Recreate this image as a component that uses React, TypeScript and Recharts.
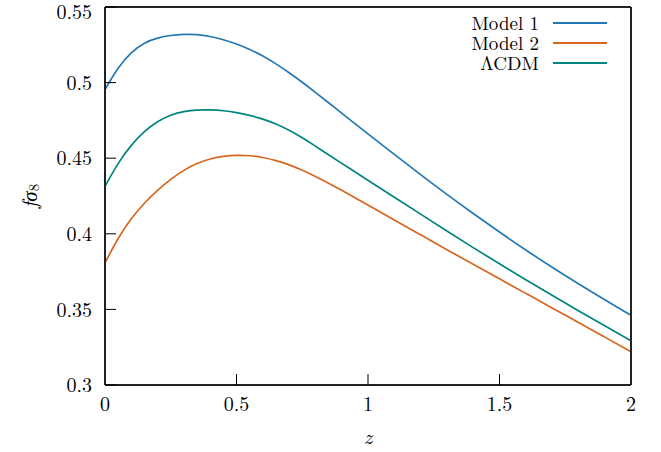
import React from 'react';
import { LineChart, Line, XAxis, YAxis, Legend } from 'recharts';

const zValues = [0, 0.05, 0.1, 0.15, 0.2, 0.25, 0.3, 0.35, 0.4, 0.45, 0.5, 0.55, 0.6, 0.65, 0.7, 0.75, 0.8, 0.85, 0.9, 0.95, 1.0, 1.1, 1.2, 1.3, 1.4, 1.5, 1.6, 1.7, 1.8, 1.9, 2.0];
const model1 = [0.4954, 0.5103, 0.5203, 0.5266, 0.5297, 0.5313, 0.532, 0.5319, 0.5306, 0.5285, 0.5256, 0.522, 0.5177, 0.5125, 0.5066, 0.5003, 0.4936, 0.4867, 0.4798, 0.4729, 0.4661, 0.4525, 0.4391, 0.426, 0.4134, 0.4011, 0.3892, 0.3778, 0.3669, 0.3563, 0.3461];
const model2 = [0.3807, 0.3975, 0.4105, 0.4205, 0.4288, 0.4362, 0.4422, 0.4467, 0.4497, 0.4514, 0.452, 0.4518, 0.4506, 0.4485, 0.4457, 0.4421, 0.438, 0.4335, 0.4288, 0.4239, 0.419, 0.4091, 0.3993, 0.3895, 0.3798, 0.3702, 0.3606, 0.351, 0.3413, 0.3317, 0.322];
const lcdm = [0.4314, 0.447, 0.459, 0.468, 0.4745, 0.4788, 0.481, 0.4819, 0.482, 0.4815, 0.4803, 0.4784, 0.476, 0.4727, 0.4686, 0.4636, 0.458, 0.4522, 0.4466, 0.441, 0.4354, 0.4242, 0.413, 0.4018, 0.3908, 0.3801, 0.3696, 0.3593, 0.3491, 0.3391, 0.3293];

const xTicks = [0, 0.5, 1, 1.5, 2];
const yTicks = [0.3, 0.35, 0.4, 0.45, 0.5, 0.55];

const seriesNames = ['Model 1', 'Model 2', '\u039bCDM'];
const seriesColors = ['#2378b5', '#d8661f', '#00857f'];

const data = zValues.map((z, i) => ({ z, m1: model1[i], m2: model2[i], lcdm: lcdm[i] }));

const FONT = 'Latin Modern Roman';
const FS = 20;
const AXIS_COLOR = '#222';

const LegendBox = (props: any) => {
  const payload = props.payload || [];
  return (
    <div style={{ fontFamily: FONT, fontSize: 19, color: '#000' }}>
      {payload.map((p: any) => (
        <div key={p.value} style={{ display: 'flex', alignItems: 'center', justifyContent: 'flex-end', height: 20 }}>
          <span style={{ lineHeight: '20px' }}>{p.value}</span>
          <span style={{ display: 'inline-block', width: 54, height: 2, background: p.color, marginLeft: 14 }} />
        </div>
      ))}
    </div>
  );
};

export default function App() {
  return (
    <div style={{ position: 'absolute', left: 0, top: 0, width: 661, height: 452, background: '#fff' }}>
      <LineChart width={661} height={452} data={data} margin={{ top: 0, right: 0, bottom: 0, left: 0 }}>
        <XAxis
          dataKey="z"
          type="number"
          domain={[0, 2]}
          ticks={xTicks}
          height={67}
          tickSize={-11}
          tickMargin={23}
          stroke={AXIS_COLOR}
          axisLine={{ stroke: AXIS_COLOR, strokeWidth: 2 }}
          tickLine={{ stroke: '#000', strokeWidth: 1 }}
          tick={{ fill: '#000', fontFamily: FONT, fontSize: FS }}
          allowDataOverflow
          label={{
            content: (lp: any) => {
              const vb = lp.viewBox || {};
              return (
                <text x={vb.x + vb.width / 2} y={vb.y + 50} textAnchor="middle" dominantBaseline="central" fontFamily={FONT} fontSize={FS} fontStyle="italic" fill="#000">z</text>
              );
            },
          }}
        />
        <XAxis
          xAxisId="top"
          orientation="top"
          type="number"
          domain={[0, 2]}
          ticks={xTicks}
          height={7}
          tickSize={-11}
          axisLine={{ stroke: AXIS_COLOR, strokeWidth: 2 }}
          tickLine={{ stroke: '#000', strokeWidth: 1 }}
          tick={false}
          allowDataOverflow
        />
        <YAxis
          type="number"
          domain={[0.3, 0.55]}
          ticks={yTicks}
          width={105}
          tickSize={-11}
          tickMargin={24}
          axisLine={{ stroke: AXIS_COLOR, strokeWidth: 2 }}
          tickLine={{ stroke: '#000', strokeWidth: 1 }}
          tick={{ fill: '#000', fontFamily: FONT, fontSize: FS }}
          allowDataOverflow
          label={{
            content: (lp: any) => {
              const vb = lp.viewBox || {};
              const cx = 28;
              const cy = vb.y + vb.height / 2;
              return (
                <text x={cx} y={cy} transform={`rotate(-90, ${cx}, ${cy})`} textAnchor="middle" dominantBaseline="central" fontFamily={FONT} fontSize={21} fill="#000">
                  <tspan fontStyle="italic">f{'\u03c3'}</tspan>
                  <tspan fontSize={15} dy={4}>8</tspan>
                </text>
              );
            },
          }}
        />
        <YAxis
          yAxisId="right"
          orientation="right"
          type="number"
          domain={[0.3, 0.55]}
          ticks={yTicks}
          width={30}
          tickSize={-11}
          axisLine={{ stroke: AXIS_COLOR, strokeWidth: 2 }}
          tickLine={{ stroke: '#000', strokeWidth: 1 }}
          tick={false}
          allowDataOverflow
        />
        <Legend
          layout="vertical"
          align="center"
          verticalAlign="middle"
          content={<LegendBox />}
          wrapperStyle={{ top: 13, right: 54, left: 'auto', width: 'auto', bottom: 'auto' }}
        />
        <Line type="basis" dataKey="m1" name={seriesNames[0]} stroke={seriesColors[0]} strokeWidth={1.7} dot={false} isAnimationActive={false} />
        <Line type="basis" dataKey="m2" name={seriesNames[1]} stroke={seriesColors[1]} strokeWidth={1.7} dot={false} isAnimationActive={false} />
        <Line type="basis" dataKey="lcdm" name={seriesNames[2]} stroke={seriesColors[2]} strokeWidth={1.7} dot={false} isAnimationActive={false} />
      </LineChart>
    </div>
  );
}
